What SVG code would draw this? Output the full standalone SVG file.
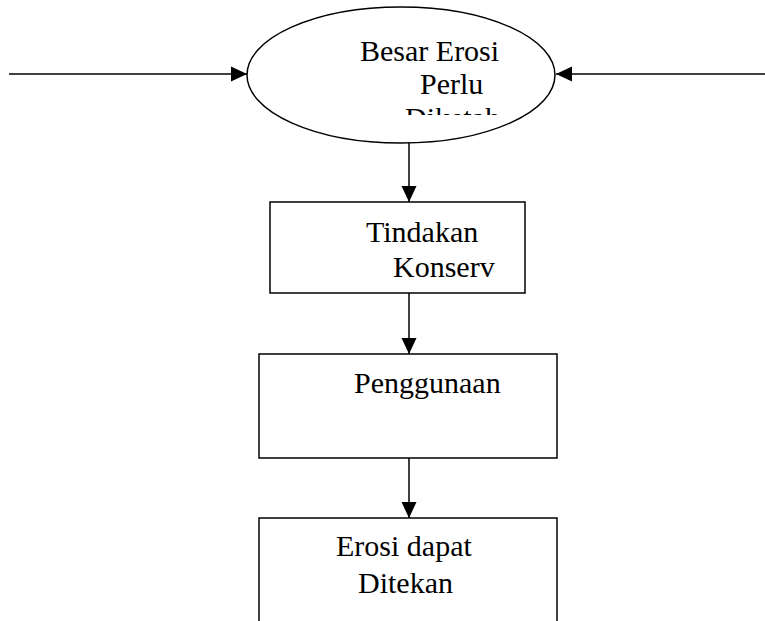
<svg xmlns="http://www.w3.org/2000/svg" width="765" height="621" viewBox="0 0 765 621">
  <style>
    .shape { fill: #ffffff; stroke: #000000; stroke-width: 1.5; }
    .edge { fill: none; stroke: #000000; stroke-width: 1.5; }
    .label { font-family: "Liberation Serif", "Times New Roman", serif; font-size: 30px; fill: #000000; }
  </style>
  <defs>
    <marker id="arrow" markerUnits="userSpaceOnUse" markerWidth="16" markerHeight="16" viewBox="0 0 16 16" refX="16" refY="8" orient="auto">
      <path d="M0,0.5 L16,8 L0,15.5 Z" fill="#000000"/>
    </marker>
    <clipPath id="ellipseTextClip">
      <rect x="330" y="20" width="180" height="95"/>
    </clipPath>
  </defs>
  <rect width="765" height="621" fill="#ffffff"/>

  <g id="connectors">
    <path class="edge" d="M9,74 L247,74" marker-end="url(#arrow)"/>
    <path class="edge" d="M765,74 L556,74" marker-end="url(#arrow)"/>
    <path class="edge" d="M409,143 L409,202" marker-end="url(#arrow)"/>
    <path class="edge" d="M409,293 L409,354" marker-end="url(#arrow)"/>
    <path class="edge" d="M409,458 L409,518" marker-end="url(#arrow)"/>
  </g>

  <g id="node-besar-erosi">
    <ellipse class="shape" cx="401" cy="75" rx="154" ry="68"/>
    <g clip-path="url(#ellipseTextClip)">
      <text class="label" x="360" y="61">Besar Erosi</text>
      <text class="label" x="420" y="94">Perlu</text>
      <text class="label" x="405" y="128">Diketah</text>
    </g>
  </g>

  <g id="node-tindakan">
    <rect class="shape" x="270" y="202" width="255" height="91"/>
    <text class="label" x="366" y="242">Tindakan</text>
    <text class="label" x="393" y="277">Konserv</text>
  </g>

  <g id="node-penggunaan">
    <rect class="shape" x="259" y="354" width="298" height="104"/>
    <text class="label" x="354" y="393">Penggunaan</text>
  </g>

  <g id="node-erosi-dapat">
    <rect class="shape" x="259" y="518" width="298" height="130"/>
    <text class="label" x="336" y="556">Erosi dapat</text>
    <text class="label" x="358" y="593">Ditekan</text>
  </g>
</svg>
